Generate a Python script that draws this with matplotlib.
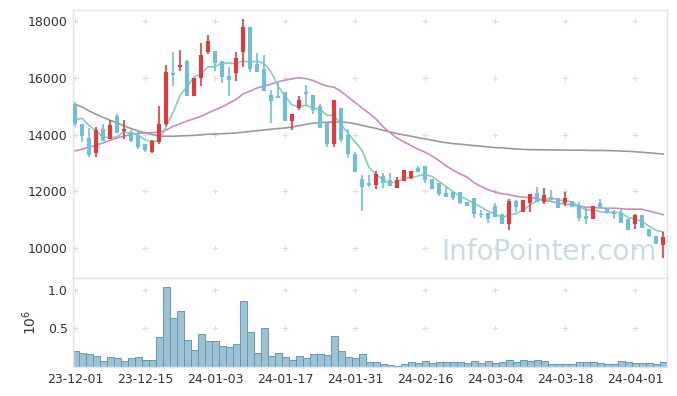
import numpy as np
import pandas as pd
import matplotlib
matplotlib.use("Agg")
import matplotlib.pyplot as plt

# OHLC (daily, 23-12-01 .. 24-04-05)
open_ = [15080, 14380, 13880, 13360, 14180, 13830, 14640, 14110, 14090, 14000,
         13660, 13380, 13740, 14380, 16160, 16370, 16600, 15350, 15980, 16890,
         16920, 16600, 16070, 16160, 16890, 17790, 16480, 16320, 15400, 15340,
         15510, 14480, 14940, 15510, 15400, 14990, 14410, 13660, 14930, 14000,
         13330, 12430, 12280, 12220, 12540, 12400, 12130, 12370, 12480, 12840,
         12890, 12430, 12280, 11930, 11970, 11970, 11620, 11760, 11220, 11230,
         11490, 11190, 10870, 11660, 11290, 11580, 11930, 11640, 11790, 11760,
         11580, 11660, 11520, 11140, 11030, 11600, 11430, 11270, 11230, 11020,
         10850, 11170, 10680, 10440, 10120]
high = [15140, 14380, 14230, 14270, 14360, 14520, 14730, 14500, 14150, 14170,
        13680, 13790, 14990, 16460, 16890, 16970, 16620, 16000, 17220, 17510,
        16920, 16600, 16370, 16890, 18060, 17790, 16870, 16800, 15570, 15840,
        15510, 14710, 15370, 15750, 15400, 15080, 14410, 15200, 14930, 14200,
        13390, 12570, 12570, 12710, 12630, 12650, 12520, 12770, 12710, 12890,
        12890, 12430, 12280, 12160, 11970, 11970, 11620, 11760, 11350, 11230,
        11610, 11190, 11750, 11700, 11700, 11910, 12140, 12110, 12050, 11760,
        11970, 11660, 11640, 11400, 11490, 11750, 11430, 11350, 11400, 11020,
        11200, 11170, 10680, 10440, 10590]
low = [14270, 13740, 13220, 13220, 13760, 13830, 14040, 13860, 13730, 13480,
       13390, 13340, 13680, 14300, 15690, 16250, 15350, 15350, 15700, 16830,
       16250, 15820, 15370, 15870, 16370, 16190, 16190, 15530, 14420, 15320,
       14480, 14170, 14850, 14990, 14710, 14230, 13570, 13570, 13740, 13190,
       12690, 11310, 12160, 12070, 12110, 12190, 12130, 12370, 12430, 12670,
       12300, 12080, 11840, 11810, 11700, 11560, 11490, 11060, 11060, 10900,
       11100, 10870, 10650, 11290, 11270, 11270, 11640, 11550, 11700, 11400,
       11490, 11460, 10960, 10860, 11030, 11400, 11250, 11030, 10900, 10650,
       10670, 10730, 10390, 10160, 9650]
close = [14380, 13950, 13270, 14150, 13780, 14320, 14060, 14200, 13780, 13570,
         13450, 13780, 14360, 16190, 16090, 16460, 15350, 15990, 16780, 17300,
         16510, 16020, 15920, 16690, 17790, 16290, 16190, 15530, 15180, 15320,
         14480, 14710, 15200, 15430, 14850, 14230, 13660, 15200, 13820, 13320,
         12690, 12160, 12210, 12610, 12300, 12190, 12400, 12770, 12710, 12670,
         12400, 12080, 11910, 11810, 11760, 11600, 11490, 11210, 11200, 11020,
         11100, 10870, 11660, 11440, 11700, 11910, 11640, 11870, 11700, 11400,
         11760, 11460, 11080, 11020, 11490, 11400, 11250, 11210, 10900, 10650,
         11170, 10730, 10440, 10160, 10390]
# volume, in millions
volume = [0.21, 0.18, 0.17, 0.14, 0.08, 0.13, 0.115, 0.08, 0.115, 0.13,
          0.10, 0.10, 0.385, 1.04, 0.63, 0.72, 0.35, 0.22, 0.435, 0.345,
          0.335, 0.27, 0.255, 0.295, 0.86, 0.46, 0.19, 0.50, 0.14, 0.18,
          0.13, 0.10, 0.14, 0.115, 0.165, 0.165, 0.155, 0.40, 0.205, 0.13,
          0.115, 0.165, 0.065, 0.065, 0.04, 0.025, 0.013, 0.04, 0.065, 0.05,
          0.075, 0.05, 0.065, 0.065, 0.065, 0.065, 0.05, 0.075, 0.05, 0.075,
          0.05, 0.065, 0.10, 0.065, 0.09, 0.075, 0.09, 0.075, 0.04, 0.04,
          0.04, 0.04, 0.065, 0.065, 0.065, 0.05, 0.04, 0.04, 0.075, 0.065,
          0.05, 0.05, 0.05, 0.04, 0.065]

# moving-average values before enough days are visible
ma5_head = [14520, 14570, 14320, 14130]
ma20_head = [13425, 13485, 13555, 13625, 13705, 13800, 13880, 13940, 14000, 14045,
             14055, 14065, 14080, 14150, 14290, 14380, 14475, 14555, 14640]
# long moving average (gray)
ma_long = [15060, 14970, 14830, 14710, 14600, 14500, 14410, 14300, 14210, 14130,
           14060, 14000, 13950, 13940, 13940, 13950, 13960, 13970, 13990, 14010,
           14020, 14030, 14040, 14055, 14080, 14110, 14135, 14160, 14185, 14210,
           14230, 14265, 14310, 14360, 14395, 14420, 14430, 14440, 14440, 14420,
           14380, 14320, 14265, 14215, 14150, 14090, 14030, 13985, 13940, 13890,
           13845, 13800, 13750, 13715, 13680, 13660, 13635, 13610, 13590, 13565,
           13540, 13530, 13510, 13490, 13480, 13470, 13465, 13460, 13460, 13455,
           13455, 13450, 13450, 13445, 13440, 13440, 13435, 13430, 13420, 13410,
           13395, 13375, 13355, 13335, 13310]

tick_pos = [0, 10, 20, 30, 40, 50, 60, 70, 80]
tick_labels = ["23-12-01", "23-12-15", "24-01-03", "24-01-17", "24-01-31",
               "24-02-16", "24-03-04", "24-03-18", "24-04-01"]
price_ticks = [10000, 12000, 14000, 16000, 18000]
vol_ticks = [0.5, 1.0]

x = np.arange(len(close))
o = np.array(open_)
c = np.array(close)
up = c >= o

s = pd.Series(close, dtype=float)
ma5 = s.rolling(5).mean().values
ma5[:4] = ma5_head
ma20 = s.rolling(20).mean().values
ma20[:19] = ma20_head

red = "#ee3438"
blue = "#6cc0da"
frame = "#e4e4e4"
txt = "#333333"

fig = plt.figure(figsize=(6.77, 3.96), dpi=100)
ax = fig.add_axes([0.1083, 0.2987, 0.8774, 0.676])
axv = fig.add_axes([0.1083, 0.0725, 0.8774, 0.2262], sharex=ax)

# grid crosses
for a, yt in ((ax, price_ticks), (axv, vol_ticks)):
    gx, gy = np.meshgrid(tick_pos, yt)
    a.plot(gx.ravel(), gy.ravel(), "+", color="#dedede", ms=5, mew=0.8, zorder=0)

# moving averages
ax.plot(x, ma_long, color="#9a9a9a", lw=1.2, zorder=1)
ax.plot(x, ma20, color="#c98cc6", lw=1.2, zorder=1)
ax.plot(x, ma5, color="#86cdbd", lw=1.2, zorder=1)

# candles
cols = np.where(up, red, blue)
ax.vlines(x, low, high, colors=cols, lw=1.2, zorder=2)
body = c - o
body = np.where(np.abs(body) < 40, np.where(up, 40, -40), body)
ax.bar(x, body, bottom=o, width=0.68, color=cols, zorder=3)

ax.text(0.8, 0.095, "InfoPointer.com", transform=ax.transAxes, ha="center",
        va="center", fontsize=20, color="#b5ccda", alpha=0.7, zorder=4)

ax.set_ylim(8967, 18376)
ax.set_yticks(price_ticks)
ax.set_xlim(-0.25, 84.6)

# volume
axv.bar(x, volume, width=1.0, color="#9cc2d3", edgecolor="#6699b3", lw=0.7)
axv.set_ylim(0, 1.154)
axv.set_yticks(vol_ticks)
axv.set_yticklabels(["0.5", "1.0"])
axv.set_ylabel("$10^6$", color=txt, fontsize=10, labelpad=6)
axv.set_xticks(tick_pos)
axv.set_xticklabels(tick_labels)

for a in (ax, axv):
    for sp in a.spines.values():
        sp.set_color(frame)
        sp.set_linewidth(1.0)
    a.tick_params(length=0, colors=txt, labelsize=9, pad=4)
ax.tick_params(labelbottom=False)

fig.savefig("out.png", dpi=100)
